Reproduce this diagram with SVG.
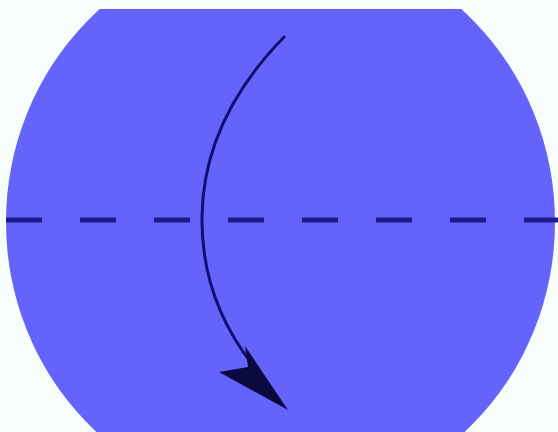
<svg xmlns="http://www.w3.org/2000/svg" width="558" height="432" viewBox="0 0 558 432">
  <defs>
    <clipPath id="clipTop">
      <rect x="0" y="9" width="558" height="423"/>
    </clipPath>
    <style>
      .dash { stroke: #1c1c8a; stroke-width: 5; stroke-dasharray: 36 38; fill: none; }
      .curve { stroke: #101070; stroke-width: 3; fill: none; stroke-linecap: round; }
      .head { fill: #0a0a40; }
    </style>
  </defs>
  <rect x="0" y="0" width="558" height="432" fill="#f6fdfa"/>
  <g id="disc">
    <ellipse cx="280.5" cy="222" rx="274.5" ry="283" fill="#6464fd" clip-path="url(#clipTop)"/>
  </g>
  <g id="axis">
    <line class="dash" x1="6" y1="220" x2="558" y2="220"/>
  </g>
  <g id="connectors">
    <path class="curve" d="M284,37 Q203,120 202,217 Q201,298 252,364"/>
    <polygon class="head" points="288,410 245,346 248,367 219,372"/>
  </g>
</svg>
